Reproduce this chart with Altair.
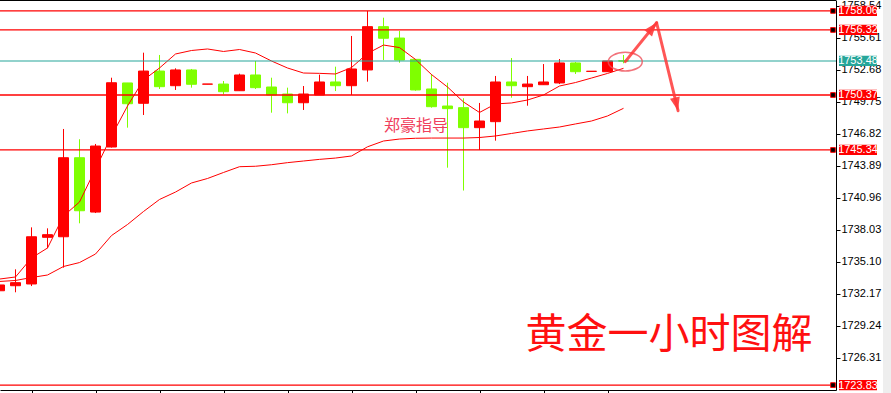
import math
import altair as alt
import pandas as pd

# ---- hourly gold candles (index, open, high, low, close) ----
bar_index = list(range(40))
open_px = [1732.46, 1732.92, 1733.08, 1737.35, 1737.40, 1744.63, 1739.66, 1745.61, 1751.47, 1749.61,
           1752.56, 1751.22, 1752.66, 1751.36, 1751.37, 1750.76, 1752.20, 1751.10, 1750.46, 1749.66,
           1750.37, 1751.56, 1751.22, 1752.66, 1756.62, 1755.58, 1753.63, 1750.92, 1749.36, 1749.21,
           1747.38, 1747.93, 1751.56, 1751.13, 1751.31, 1751.47, 1753.30, 1752.53, 1752.50, 1753.49]
high_px = [1732.99, 1734.42, 1738.26, 1738.17, 1747.26, 1746.32, 1745.89, 1751.95, 1751.47, 1754.24,
           1754.03, 1752.81, 1752.75, 1751.37, 1751.65, 1752.32, 1753.48, 1751.95, 1751.04, 1751.19,
           1752.23, 1752.96, 1755.77, 1758.06, 1757.44, 1756.22, 1753.63, 1752.29, 1751.49, 1750.07,
           1749.64, 1752.11, 1753.75, 1752.11, 1753.20, 1753.66, 1753.39, 1752.54, 1753.48, 1754.03]
low_px = [1732.46, 1732.32, 1732.89, 1736.34, 1734.57, 1738.63, 1739.57, 1745.56, 1747.38, 1748.54,
          1750.92, 1750.83, 1751.04, 1751.36, 1750.43, 1750.76, 1750.92, 1748.75, 1748.69, 1749.00,
          1750.37, 1750.73, 1750.37, 1751.59, 1753.57, 1753.32, 1750.76, 1749.21, 1743.72, 1741.63,
          1745.34, 1746.19, 1750.12, 1749.39, 1751.31, 1751.37, 1752.29, 1752.53, 1752.50, 1753.27]
close_px = [1732.99, 1733.20, 1737.40, 1737.59, 1744.63, 1739.78, 1745.70, 1751.49, 1749.57, 1752.56,
            1751.13, 1752.66, 1751.35, 1751.37, 1750.67, 1752.20, 1751.04, 1750.37, 1749.66, 1750.46,
            1751.56, 1751.22, 1752.75, 1756.62, 1755.56, 1753.57, 1750.83, 1749.30, 1749.12, 1747.38,
            1747.99, 1751.56, 1751.22, 1751.37, 1751.56, 1753.30, 1752.50, 1752.54, 1753.48, 1753.48]

# ---- moving averages ----
ma_fast = [1733.53, 1733.72, 1735.46, 1736.37, 1739.30, 1740.58, 1743.60, 1746.62, 1749.36, 1751.74,
           1752.84, 1754.12, 1754.44, 1754.58, 1754.35, 1754.53, 1754.21, 1753.48, 1752.84, 1752.38,
           1752.35, 1752.29, 1752.88, 1754.17, 1754.94, 1754.71, 1753.62, 1752.24, 1751.10, 1749.73,
           1748.77, 1749.55, 1749.64, 1749.91, 1750.37, 1751.19, 1751.51, 1751.92, 1752.34, 1752.81]
ma_slow = [1733.31, 1733.40, 1733.67, 1733.90, 1734.68, 1735.04, 1735.82, 1737.51, 1738.52, 1739.71,
           1740.81, 1741.49, 1742.32, 1742.73, 1743.28, 1743.81, 1743.85, 1743.99, 1744.18, 1744.33,
           1744.48, 1744.60, 1744.79, 1745.63, 1746.16, 1746.34, 1746.41, 1746.43, 1746.43, 1746.43,
           1746.48, 1746.62, 1746.85, 1747.08, 1747.26, 1747.44, 1747.72, 1747.99, 1748.45, 1749.15]

# ---- horizontal levels ----
red_levels = [1758.06, 1756.32, 1750.37, 1745.34, 1723.83]
bid_level = [1753.48]

# ---- axis ticks ----
price_ticks = [1758.54, 1755.61, 1752.68, 1749.75, 1746.82, 1743.89, 1740.96,
               1738.03, 1735.10, 1732.17, 1729.24, 1726.31]
time_ticks = [2, 6, 10, 14, 18, 22, 26, 30, 34, 38]

# ---- projected path (from the last bar up, then down) ----
path_x = [39.11, 41.07, 42.41]
path_y = [1753.42, 1756.98, 1748.93]

caption_main = "黄金一小时图解"
caption_small = "郑豪指导"

RED = "#FF0000"
GREEN = "#7FFF00"
TEAL = "#26A69A"
W, H = 836, 390
X_DOM = [0.03125, 52.28125]
Y_DOM = [1723.38, 1759.06]
NUM_FONT = "Liberation Sans"
CJK_FONT = "Noto Sans CJK SC"

xs = alt.Scale(domain=X_DOM, nice=False, zero=False)
ys = alt.Scale(domain=Y_DOM, nice=False, zero=False)

x_axis = alt.Axis(values=time_ticks, labels=False, tickSize=5, tickColor="black",
                  domainColor="black", domainWidth=1, grid=False, title=None)
y_axis = alt.Axis(orient="right", values=price_ticks, format=".2f", labelFont=NUM_FONT,
                  labelFontSize=11, labelColor="black", labelPadding=1, tickSize=4,
                  tickColor="black", domainColor="black", domainWidth=1, grid=False,
                  title=None, labelOverlap=False)


def X(field):
    return alt.X(field, type="quantitative", scale=xs, axis=x_axis)


def Y(field):
    return alt.Y(field, type="quantitative", scale=ys, axis=y_axis)


df = pd.DataFrame({"i": bar_index, "o": open_px, "h": high_px, "l": low_px, "c": close_px,
                   "fast": ma_fast, "slow": ma_slow})
df["b0"] = df[["o", "c"]].min(axis=1)
df["b1"] = df[["o", "c"]].max(axis=1)
df["x0"] = df["i"] - 0.3125
df["x1"] = df["i"] + 0.3125
df["dir"] = ["up" if c >= o else "down" for o, c in zip(df["o"], df["c"])]

dir_scale = alt.Scale(domain=["up", "down"], range=[RED, GREEN])

wicks = alt.Chart(df).mark_rule(strokeWidth=1, clip=True).encode(
    x=X("i"), y=Y("l"), y2="h:Q",
    color=alt.Color("dir:N", scale=dir_scale, legend=None),
)

bodies = alt.Chart(df).mark_rect(strokeWidth=1, clip=True).encode(
    x=X("x0"), x2="x1:Q", y=Y("b0"), y2="b1:Q",
    fill=alt.Fill("dir:N", scale=dir_scale, legend=None),
    stroke=alt.Stroke("dir:N", scale=dir_scale, legend=None),
)

fast_line = alt.Chart(df).mark_line(color=RED, strokeWidth=1, clip=True).encode(
    x=X("i"), y=Y("fast"))
slow_line = alt.Chart(df).mark_line(color=RED, strokeWidth=1, clip=True).encode(
    x=X("i"), y=Y("slow"))

lv = pd.DataFrame({"p": red_levels})
bid = pd.DataFrame({"p": bid_level})

red_rules = alt.Chart(lv).mark_rule(color=RED, strokeWidth=1.3).encode(
    y=Y("p"), x=alt.value(0), x2=alt.value(833))
bid_rule = alt.Chart(bid).mark_rule(color=TEAL, strokeWidth=1.2).encode(
    y=Y("p"), x=alt.value(0), x2=alt.value(W))

end_marks = alt.Chart(lv).mark_point(shape="square", size=22, filled=True, fill="#000000",
                                     stroke=RED, strokeWidth=1, opacity=1).encode(
    x=alt.value(833), y=Y("p"))

BOX = "M -1 -0.27 L 1 -0.27 L 1 0.27 L -1 0.27 Z"
red_boxes = alt.Chart(lv).mark_point(shape=BOX, size=38 * 38, filled=True, fill=RED,
                                     strokeWidth=0, opacity=1).encode(
    x=alt.value(858), y=Y("p"))
bid_box = alt.Chart(bid).mark_point(shape=BOX, size=38 * 38, filled=True, fill=TEAL,
                                    strokeWidth=0, opacity=1).encode(
    x=alt.value(858), y=Y("p"))
box_text = alt.Chart(pd.DataFrame({"p": red_levels + bid_level})).mark_text(
    color="white", font=NUM_FONT, fontSize=11, align="center", baseline="middle", dy=0.5
).encode(
    x=alt.value(858), y=Y("p"), text=alt.Text("p:Q", format=".2f"))

top_frame = alt.Chart(pd.DataFrame({"k": [0]})).mark_rule(color="black", strokeWidth=1).encode(
    x=alt.value(0), x2=alt.value(W), y=alt.value(0.5))
side_strip = alt.Chart(pd.DataFrame({"k": [0]})).mark_rect(color="#EEEEEE").encode(
    x=alt.value(883), x2=alt.value(891), y=alt.value(0), y2=alt.value(393))

# projected path: two arrow segments, arrowheads and a ring around the last bar
sx = W / (X_DOM[1] - X_DOM[0])
sy = H / (Y_DOM[1] - Y_DOM[0])
segs = pd.DataFrame({"xa": path_x[:-1], "ya": path_y[:-1], "xb": path_x[1:], "yb": path_y[1:]})
heads = pd.DataFrame({
    "x": path_x[1:], "y": path_y[1:],
    "ang": [math.degrees(math.atan2((xb - xa) * sx, (yb - ya) * sy)) % 360
            for xa, ya, xb, yb in zip(path_x[:-1], path_y[:-1], path_x[1:], path_y[1:])],
})
ARROW = "M 0 0 L 0.5 1.35 L -0.5 1.35 Z"
arrow_lines = alt.Chart(segs).mark_rule(color="#FF3838", strokeWidth=3, opacity=0.85,
                                        strokeCap="round").encode(
    x=X("xa"), x2="xb:Q", y=Y("ya"), y2="yb:Q")
arrow_heads = alt.Chart(heads).mark_point(shape=ARROW, size=400, filled=True, fill="#FF3838",
                                          strokeWidth=0, opacity=0.9).encode(
    x=X("x"), y=Y("y"), angle=alt.Angle("ang:Q", scale=None))
RING = "M -1 0 A 1 0.55 0 1 1 1 0 A 1 0.55 0 1 1 -1 0 Z"
ring = alt.Chart(pd.DataFrame({"x": path_x[:1], "y": path_y[:1]})).mark_point(
    shape=RING, size=34 * 34, filled=False, stroke="#F0505A", strokeWidth=1.5, opacity=0.8
).encode(x=X("x"), y=Y("y"))

small_caption = alt.Chart(pd.DataFrame({"t": [caption_small]})).mark_text(
    font=CJK_FONT, fontSize=16, color="#F0405C", align="center", baseline="middle"
).encode(x=alt.value(416), y=alt.value(126), text="t:N")
main_caption = alt.Chart(pd.DataFrame({"t": [caption_main]})).mark_text(
    font=CJK_FONT, fontSize=41, color="#FF1010", align="center", baseline="middle"
).encode(x=alt.value(669), y=alt.value(336), text="t:N")

chart = alt.layer(
    side_strip, wicks, bodies, fast_line, slow_line, red_rules, bid_rule, end_marks,
    red_boxes, bid_box, box_text, top_frame, small_caption, main_caption,
    ring, arrow_lines, arrow_heads,
).properties(
    width=W, height=H,
    autosize=alt.AutoSizeParams(type="none"),
    padding={"left": 0, "top": 0, "right": 55, "bottom": 3},
    background="white",
).configure_view(stroke=None)

chart.save("out.html", embed_options={"renderer": "svg", "actions": False})
